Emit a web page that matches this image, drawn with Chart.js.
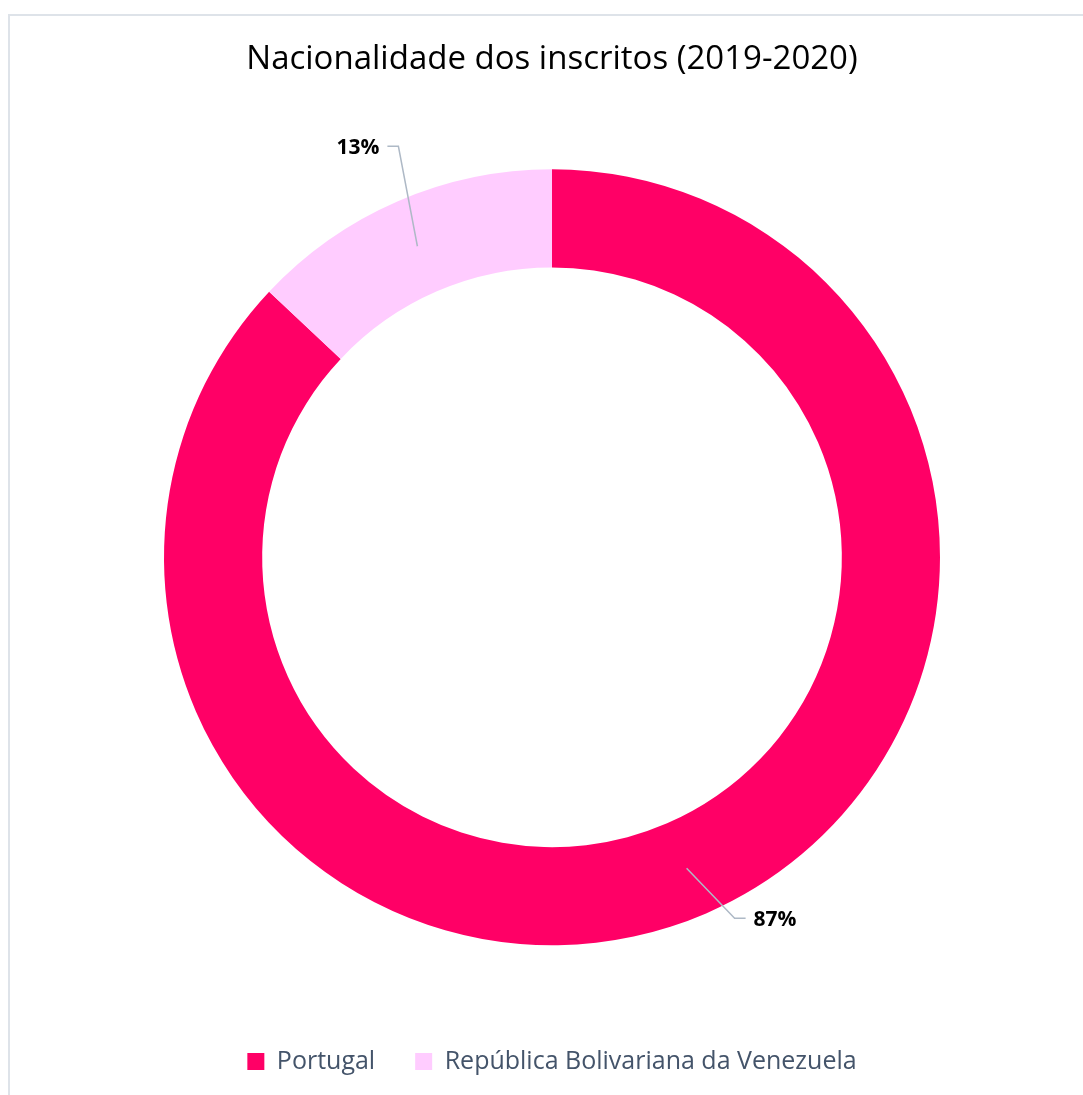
<!DOCTYPE html>
<html>
<head>
<meta charset="utf-8">
<script src="https://cdn.jsdelivr.net/npm/chart.js@4/dist/chart.umd.min.js"></script>
<style>
  html, body { margin: 0; padding: 0; background: #fff; }
  #wrap { position: relative; width: 1083px; height: 1095px; }
</style>
</head>
<body>
<div id="wrap"><canvas id="chart"></canvas></div>
<script>
// nationality of enrolled students, share in percent
var nationalities = ['Portugal', 'República Bolivariana da Venezuela'];
var shares = [87, 13];
var sliceColors = ['#FF0066', '#FFCCFF'];

// light frame around the chart area (runs off the right/bottom edge)
var framePlugin = {
    id: 'frame',
    beforeDraw: function(chart) {
        var ctx = chart.ctx;
        ctx.save();
        ctx.strokeStyle = '#DEE3E9';
        ctx.lineWidth = 2;
        ctx.strokeRect(9, 15, 2000, 2000);
        ctx.restore();
    }
};

// percentage labels with leader lines, placed relative to each slice's centre
var leaderLabels = {
    id: 'leaderLabels',
    afterDatasetsDraw: function(chart, args, opts) {
        var ctx = chart.ctx;
        var meta = chart.getDatasetMeta(0);
        var data = chart.data.datasets[0].data;
        ctx.save();
        meta.data.forEach(function(arc, i) {
            var p = arc.getCenterPoint();
            var o = opts.offsets[i];
            var ex = p.x + o.dx, ey = p.y + o.dy;
            var tx = ex + o.side * 11;
            ctx.strokeStyle = '#AEB9C6';
            ctx.lineWidth = 1.5;
            ctx.beginPath();
            ctx.moveTo(p.x, p.y);
            ctx.lineTo(ex, ey);
            ctx.lineTo(tx, ey);
            ctx.stroke();
            ctx.fillStyle = '#000';
            ctx.font = 'bold 21px "Open Sans", sans-serif';
            ctx.textBaseline = 'middle';
            ctx.textAlign = o.side > 0 ? 'left' : 'right';
            ctx.fillText(data[i] + '%', tx + o.side * 8, ey + 2);
        });
        ctx.restore();
    }
};

new Chart(document.getElementById('chart'), {
    type: 'doughnut',
    data: {
        labels: nationalities,
        datasets: [{
            data: shares,
            backgroundColor: sliceColors,
            borderWidth: 0,
            hoverOffset: 0
        }]
    },
    options: {
        responsive: true,
        maintainAspectRatio: false,
        animation: false,
        cutout: '74.7%',
        layout: { padding: { left: 164, right: 143, top: 0, bottom: 11 } },
        plugins: {
            title: {
                display: true,
                text: 'Nacionalidade dos inscritos (2019-2020)',
                color: '#000',
                font: { family: '"Open Sans", sans-serif', size: 33, weight: 'normal', lineHeight: 1.2 },
                padding: { top: 40, bottom: 26 }
            },
            legend: {
                position: 'bottom',
                labels: {
                    color: '#44546A',
                    font: { family: '"Open Sans", sans-serif', size: 25 },
                    boxWidth: 17,
                    boxHeight: 17,
                    padding: 40
                }
            },
            tooltip: { enabled: false },
            leaderLabels: {
                offsets: [
                    { dx: 48, dy: 50, side: 1 },
                    { dx: -19, dy: -100, side: -1 }
                ]
            }
        }
    },
    plugins: [framePlugin, leaderLabels]
});
</script>
</body>
</html>
